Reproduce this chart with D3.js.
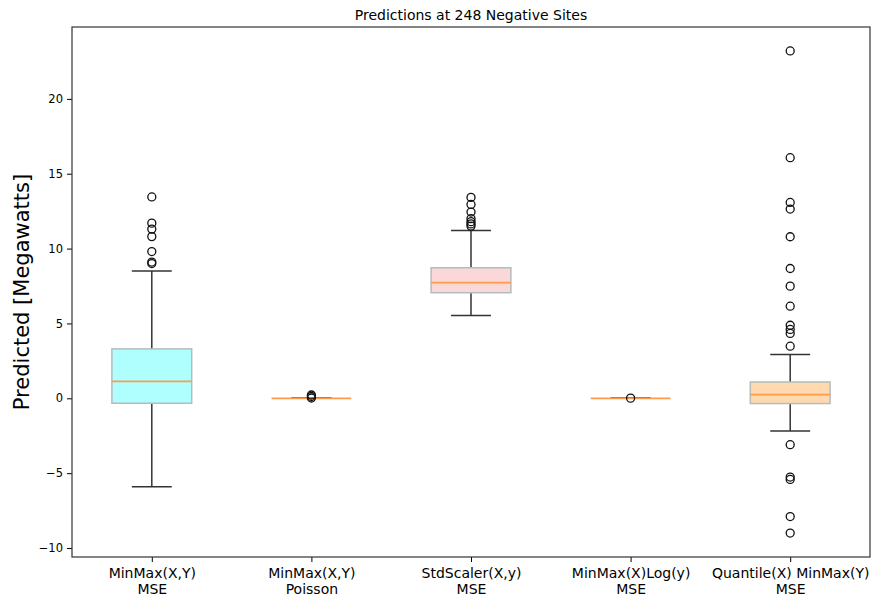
<!DOCTYPE html>
<meta charset="utf-8">
<style>
body {
  font-family: "DejaVu Sans", sans-serif;
  margin: 0;
  background: #fff;
}
.tick text { font-family: "DejaVu Sans", sans-serif; fill: #000; }
.tick line { stroke: #000; }
</style>
<body>
<script src="https://d3js.org/d3.v7.min.js"></script>
<script>
var categories = ["MinMax(X,Y)\nMSE", "MinMax(X,Y)\nPoisson", "StdScaler(X,y)\nMSE",
                  "MinMax(X)Log(y)\nMSE", "Quantile(X) MinMax(Y)\nMSE"];
var q1 = [-0.33, 0, 7.05, 0, -0.35];
var medians = [1.13, 0, 7.72, 0, 0.25];
var q3 = [3.3, 0, 8.72, 0, 1.09];
var whiskLo = [-5.9, 0, 5.53, 0, -2.19];
var whiskHi = [8.5, 0, 11.2, 0, 2.92];
var outliers = [
  [13.45, 11.7, 11.3, 10.8, 9.8, 9.1, 9.0],
  [0.22, 0.12, 0.02],
  [13.42, 12.95, 12.44, 12.0, 11.8, 11.65, 11.5],
  [0.01],
  [23.2, 16.07, 13.08, 12.64, 10.79, 8.67, 7.49, 6.15, 4.88, 4.6, 4.33, 3.48, -3.1, -5.26, -5.42, -7.9, -9.0]
];
var fills = ["#b0ffff", "#ffffff", "#fad8da", "#ffffff", "#ffdab0"];
var yTicks = [-10, -5, 0, 5, 10, 15, 20];

var width = 871, height = 600;
var margin = {left: 72, right: 1, top: 27, bottom: 43};

var svg = d3.select("body").append("svg").attr("width", width).attr("height", height);

var x = d3.scaleLinear().domain([0.5, 5.5]).range([margin.left, width - margin.right]);
var y = d3.scaleLinear().domain([-10.6, 24.8]).range([height - margin.bottom, margin.top]);

var boxW = x(1.25) - x(1);

var g = svg.append("g");

categories.forEach(function(c, i) {
  var cx = x(i + 1);
  var bg = g.append("g");
  // whiskers
  bg.append("line").attr("x1", cx).attr("x2", cx).attr("y1", y(q1[i])).attr("y2", y(whiskLo[i]))
    .attr("stroke", "#333").attr("stroke-width", 1.5);
  bg.append("line").attr("x1", cx).attr("x2", cx).attr("y1", y(q3[i])).attr("y2", y(whiskHi[i]))
    .attr("stroke", "#333").attr("stroke-width", 1.5);
  [whiskLo[i], whiskHi[i]].forEach(function(v) {
    bg.append("line").attr("x1", cx - boxW / 2).attr("x2", cx + boxW / 2).attr("y1", y(v)).attr("y2", y(v))
      .attr("stroke", "#333").attr("stroke-width", 1.5);
  });
  // box
  bg.append("rect").attr("x", cx - boxW).attr("width", boxW * 2)
    .attr("y", y(q3[i])).attr("height", Math.max(0, y(q1[i]) - y(q3[i])))
    .attr("fill", fills[i]).attr("stroke", "#b4bcbc").attr("stroke-width", 1.5);
  // median
  bg.append("line").attr("x1", cx - boxW).attr("x2", cx + boxW).attr("y1", y(medians[i])).attr("y2", y(medians[i]))
    .attr("stroke", "#ff9a4a").attr("stroke-width", 1.8);
  // fliers
  bg.selectAll("circle").data(outliers[i]).enter().append("circle")
    .attr("cx", cx).attr("cy", function(d) { return y(d); }).attr("r", 4)
    .attr("fill", "none").attr("stroke", "#111").attr("stroke-width", 1.3);
});

// axes
var yAxis = d3.axisLeft(y).tickValues(yTicks).tickSize(5).tickPadding(4)
  .tickFormat(function(d) { return d < 0 ? "\u2212" + Math.abs(d) : d; });
var ya = svg.append("g").attr("transform", "translate(" + margin.left + ",0)").call(yAxis);
ya.select(".domain").remove();
ya.selectAll("text").attr("font-size", 11.5);

var xAxis = d3.axisBottom(x).tickValues([1, 2, 3, 4, 5]).tickSize(5).tickFormat("");
var xa = svg.append("g").attr("transform", "translate(0," + (height - margin.bottom) + ")").call(xAxis);
xa.select(".domain").remove();
xa.selectAll(".tick").each(function(d) {
  var lines = categories[d - 1].split("\n");
  var t = d3.select(this).append("text").attr("text-anchor", "middle").attr("font-size", 14).attr("fill", "#000");
  lines.forEach(function(l, k) {
    t.append("tspan").attr("x", 0).attr("y", 21 + k * 16).text(l);
  });
});

// frame
svg.append("rect").attr("x", margin.left).attr("y", margin.top)
  .attr("width", width - margin.right - margin.left).attr("height", height - margin.bottom - margin.top)
  .attr("fill", "none").attr("stroke", "#333").attr("stroke-width", 1.2);

svg.append("text").attr("x", (margin.left + width - margin.right) / 2).attr("y", 20)
  .attr("text-anchor", "middle").attr("font-size", 14).text("Predictions at 248 Negative Sites");

svg.append("text").attr("transform", "translate(29," + ((margin.top + height - margin.bottom) / 2) + ") rotate(-90)")
  .attr("text-anchor", "middle").attr("font-size", 21).text("Predicted [Megawatts]");
</script>
</body>
